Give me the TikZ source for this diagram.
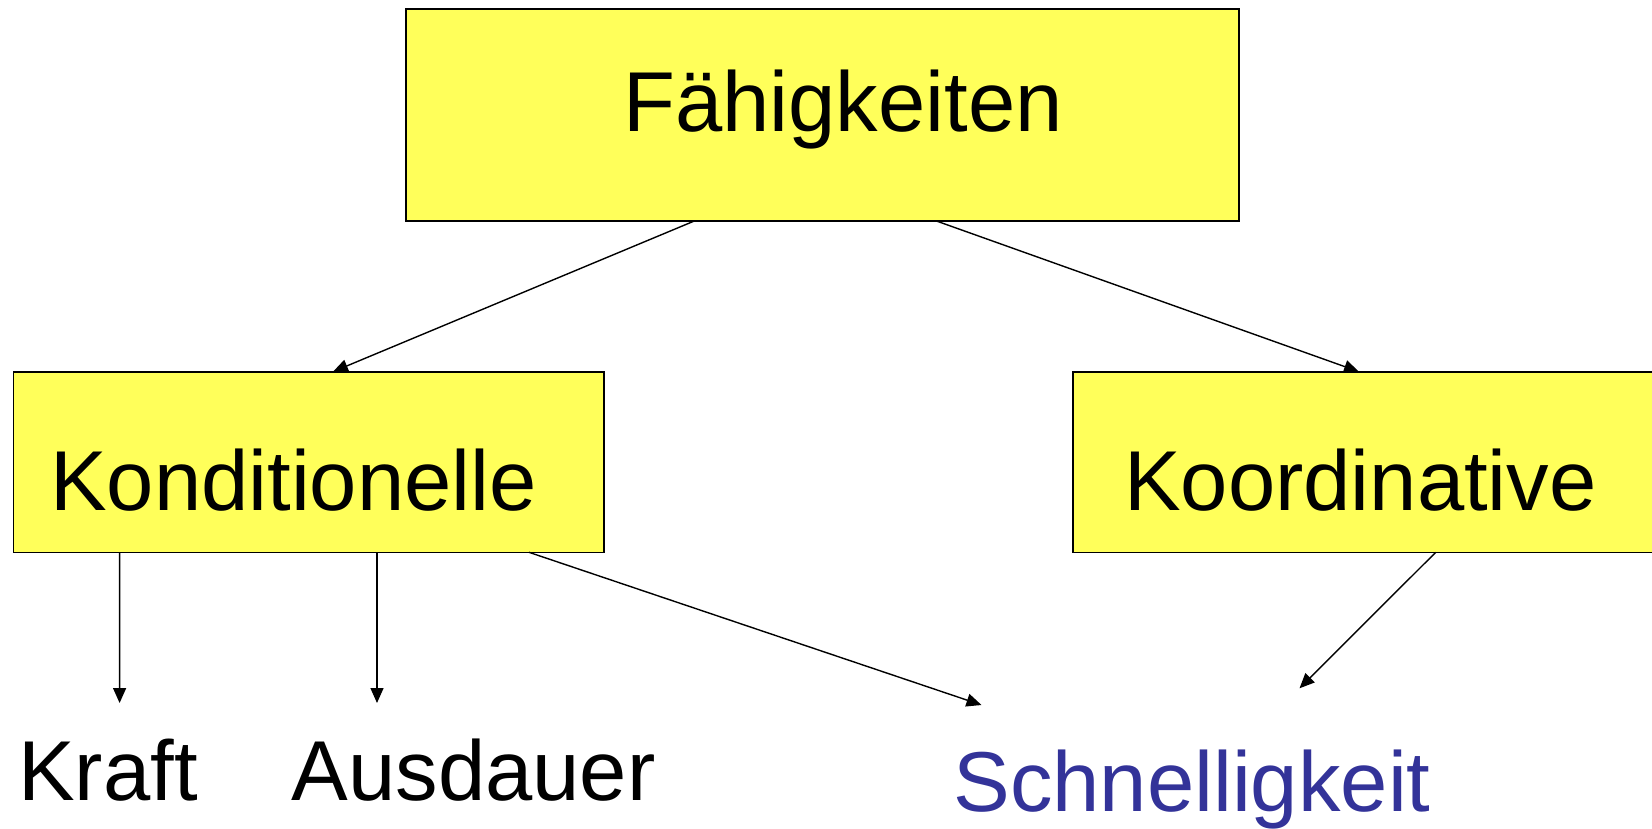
\documentclass[tikz,border=0pt]{standalone}
\usepackage{fontspec}
\setmainfont{Liberation Sans}
\usetikzlibrary{arrows.meta,calc}
\definecolor{boxyellow}{HTML}{FFFF5A}
\definecolor{textblue}{HTML}{333399}
\tikzset{
  box/.style={draw=black, line width=1.6pt, fill=boxyellow, rectangle, inner sep=0pt, outer sep=0pt},
  lbl/.style={font=\fontsize{85}{100}\selectfont, inner sep=0pt, anchor=base},
  conn/.style={draw=black, line width=1.4pt, -{Triangle[length=15pt,width=13pt]}}
}
\begin{document}
\begin{tikzpicture}[x=1pt,y=-1pt]
\useasboundingbox (0,0) rectangle (1652,828);
% boxes
\node[box, minimum width=833pt, minimum height=211.7pt] (fah) at (822.5,114.85) {};
\node[box, minimum width=590.6pt, minimum height=180.6pt] (kon) at (308.7,462) {};
\node[box, minimum width=590.6pt, minimum height=180.6pt] (koo) at (1368,462) {};
% labels
\node[lbl] (fahT) at (843,131) {Fähigkeiten};
\node[lbl] (konT) at (293.5,510) {Konditionelle};
\node[lbl] (kooT) at (1360.4,510) {Koordinative};
\node[lbl, text=textblue] (sch) at (1192,811.7) {Schnelligkeit};
\node[lbl] (kra) at (108,800.7) {Kraft};
\node[lbl] (aus) at (473.5,800.7) {Ausdauer};
% free ends
\coordinate (kraTop) at (119.6,703);
\coordinate (ausTop) at (377,703);
\coordinate (schL) at (981.5,705);
\coordinate (schR) at (1299.5,688.3);
% connectors
\draw[conn] ([xshift=289pt]fah.south west) -- ([xshift=319.6pt]kon.north west);
\draw[conn] ([xshift=529.6pt]fah.south west) -- ([xshift=286.3pt]koo.north west);
\draw[conn] ([xshift=106.2pt]kon.south west) -- (kraTop);
\draw[conn] ([xshift=363.6pt]kon.south west) -- (ausTop);
\draw[conn] ([xshift=515.6pt]kon.south west) -- (schL);
\draw[conn] ([xshift=363pt]koo.south west) -- (schR);
\end{tikzpicture}
\end{document}
